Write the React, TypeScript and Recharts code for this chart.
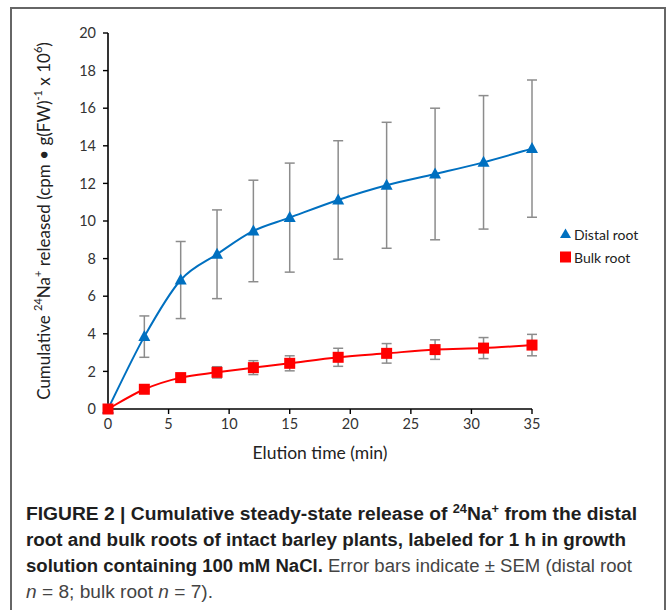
import React from "react";
import { LineChart, Line, XAxis, YAxis, ErrorBar } from "recharts";

const times = [0, 3, 6, 9, 12, 15, 19, 23, 27, 31, 35];
const distal = [0, 3.85, 6.86, 8.23, 9.47, 10.18, 11.12, 11.9, 12.5, 13.12, 13.85];
const distalErr = [0, 1.1, 2.05, 2.36, 2.7, 2.9, 3.15, 3.35, 3.5, 3.55, 3.65];
const bulk = [0, 1.05, 1.67, 1.95, 2.2, 2.43, 2.75, 2.96, 3.16, 3.24, 3.4];
const bulkErr = [0, 0.1, 0.15, 0.3, 0.37, 0.4, 0.48, 0.52, 0.52, 0.56, 0.57];
const xTicks = [0, 5, 10, 15, 20, 25, 30, 35];
const yTicks = [0, 2, 4, 6, 8, 10, 12, 14, 16, 18, 20];
const seriesNames = ["Distal root", "Bulk root"];

const BLUE = "#0070C0";
const RED = "#FF0000";
const ERR = "#8c8c8c";
const FONT = "Lato, 'Open Sans', sans-serif";

const data = times.map((t, i) => ({
  t,
  distal: distal[i],
  dErr: distalErr[i],
  bulk: bulk[i],
  bErr: bulkErr[i],
}));

// Smoothed line (Catmull-Rom style Bezier through points), like a spreadsheet "smoothed line"
const smoothCurve = (context: any) => {
  let pts: number[][] = [];
  return {
    areaStart() {},
    areaEnd() {},
    lineStart() {
      pts = [];
    },
    point(x: number, y: number) {
      pts.push([+x, +y]);
    },
    lineEnd() {
      const n = pts.length;
      if (!n) return;
      context.moveTo(pts[0][0], pts[0][1]);
      if (n === 1) return;
      for (let i = 0; i < n - 1; i++) {
        const p0 = pts[i - 1] || pts[i];
        const p1 = pts[i];
        const p2 = pts[i + 1];
        const p3 = pts[i + 2] || p2;
        const c1x = p1[0] + (p2[0] - p0[0]) / 6;
        const c1y = p1[1] + (p2[1] - p0[1]) / 6;
        const c2x = p2[0] - (p3[0] - p1[0]) / 6;
        const c2y = p2[1] - (p3[1] - p1[1]) / 6;
        context.bezierCurveTo(c1x, c1y, c2x, c2y, p2[0], p2[1]);
      }
    },
  };
};

const TriangleDot = (p: any) => {
  const { cx, cy, index } = p;
  if (cx == null || cy == null) return <g key={`tri-${index}`} />;
  return (
    <polygon
      key={`tri-${index}`}
      points={`${cx},${cy - 6.5} ${cx - 6},${cy + 4.5} ${cx + 6},${cy + 4.5}`}
      fill={BLUE}
    />
  );
};

const SquareDot = (p: any) => {
  const { cx, cy, index } = p;
  if (cx == null || cy == null) return <g key={`sq-${index}`} />;
  return <rect key={`sq-${index}`} x={cx - 5.5} y={cy - 5.5} width={11} height={11} fill={RED} />;
};

const YLabel = (props: any) => {
  const vb = props.viewBox || {};
  const x = vb.x + 23;
  const y = vb.y + vb.height / 2;
  return (
    <text
      x={x}
      y={y}
      transform={`rotate(-90, ${x}, ${y})`}
      textAnchor="middle"
      dominantBaseline="central"
      fontFamily={FONT}
      fontSize={17}
      fill="#222"
    >
      <tspan>Cumulative </tspan>
      <tspan fontSize={11} dy={-6}>24</tspan>
      <tspan dy={6}>Na</tspan>
      <tspan fontSize={11} dy={-6}>+</tspan>
      <tspan dy={6}> released (cpm • g(FW)</tspan>
      <tspan fontSize={11} dy={-6}>-1</tspan>
      <tspan dy={6}> x 10</tspan>
      <tspan fontSize={11} dy={-6}>6</tspan>
      <tspan dy={6}>)</tspan>
    </text>
  );
};

const XLabel = (props: any) => {
  const vb = props.viewBox || {};
  return (
    <text
      x={vb.x + vb.width / 2}
      y={vb.y + 43}
      textAnchor="middle"
      dominantBaseline="central"
      fontFamily={FONT}
      fontSize={17.5}
      fill="#222"
    >
      Elution time (min)
    </text>
  );
};

const LegendBox = () => (
  <svg style={{ position: "absolute", left: 560, top: 226 }} width={110} height={50}>
    {seriesNames.map((name, i) => {
      const cy = 8 + i * 23;
      return (
        <g key={name}>
          {i === 0 ? (
            <polygon points={`5.5,${cy - 5.5} 0,${cy + 4} 11,${cy + 4}`} fill={BLUE} />
          ) : (
            <rect x={0} y={cy - 5.5} width={11} height={11} fill={RED} />
          )}
          <text x={14} y={cy} dominantBaseline="central" fontFamily={FONT} fontSize={14} fill="#222">
            {name}
          </text>
        </g>
      );
    })}
  </svg>
);

const capBold = { fontWeight: 700, fill: "#1e1e1e" };

export default function App() {
  return (
    <div
      style={{
        position: "absolute",
        left: 0,
        top: 0,
        width: 670,
        height: 610,
        background: "#fff",
        overflow: "hidden",
      }}
    >
      <div
        style={{
          position: "absolute",
          left: 10,
          top: 7,
          width: 656,
          height: 640,
          border: "2px solid #666",
          boxSizing: "border-box",
        }}
      />
      <div style={{ position: "absolute", left: 0, top: 0 }}>
        <LineChart
          width={670}
          height={470}
          data={data}
          margin={{ top: 33, right: 138, bottom: 21, left: 20 }}
        >
          <XAxis
            dataKey="t"
            type="number"
            domain={[0, 35]}
            ticks={xTicks}
            tickSize={5}
            tickMargin={5}
            axisLine={{ stroke: "#000", strokeWidth: 1.6 }}
            tickLine={{ stroke: "#000", strokeWidth: 1.4 }}
            tick={{ fontFamily: FONT, fontSize: 14.5, fill: "#333" }}
            height={40}
            label={{ content: XLabel }}
          />
          <YAxis
            type="number"
            domain={[0, 20]}
            ticks={yTicks}
            tickSize={5}
            tickMargin={7}
            width={88}
            axisLine={{ stroke: "#000", strokeWidth: 1.6 }}
            tickLine={{ stroke: "#000", strokeWidth: 1.4 }}
            tick={{ fontFamily: FONT, fontSize: 14.5, fill: "#333" }}
            label={{ content: YLabel }}
          />
          <Line
            type={smoothCurve as any}
            dataKey="distal"
            name={seriesNames[0]}
            stroke={BLUE}
            strokeWidth={2}
            dot={TriangleDot}
            activeDot={false}
            isAnimationActive={false}
          >
            <ErrorBar dataKey="dErr" width={5} stroke={ERR} strokeWidth={1.5} direction="y" />
          </Line>
          <Line
            type={smoothCurve as any}
            dataKey="bulk"
            name={seriesNames[1]}
            stroke={RED}
            strokeWidth={2}
            dot={SquareDot}
            activeDot={false}
            isAnimationActive={false}
          >
            <ErrorBar dataKey="bErr" width={5} stroke={ERR} strokeWidth={1.5} direction="y" />
          </Line>
        </LineChart>
      </div>
      <LegendBox />
      <svg
        style={{ position: "absolute", left: 0, top: 490 }}
        width={670}
        height={120}
        fontFamily="'Liberation Sans', Arial, sans-serif"
        fontSize={18}
      >
        <text x={26} y={30} textLength={611} lengthAdjust="spacingAndGlyphs" {...capBold}>
          <tspan>FIGURE 2 | Cumulative steady-state release of </tspan>
          <tspan fontSize={12} dy={-7}>24</tspan>
          <tspan dy={7}>Na</tspan>
          <tspan fontSize={12} dy={-7}>+</tspan>
          <tspan dy={7}> from the distal</tspan>
        </text>
        <text x={26} y={56} textLength={600} lengthAdjust="spacingAndGlyphs" {...capBold}>
          root and bulk roots of intact barley plants, labeled for 1 h in growth
        </text>
        <text x={26} y={82} textLength={606} lengthAdjust="spacingAndGlyphs">
          <tspan fontWeight={700} fill="#1e1e1e">solution containing 100 mM NaCl.</tspan>
          <tspan fill="#444"> Error bars indicate ± SEM (distal root</tspan>
        </text>
        <text x={26} y={108} textLength={187} lengthAdjust="spacingAndGlyphs" fill="#444">
          <tspan fontStyle="italic">n</tspan>
          <tspan> = 8; bulk root </tspan>
          <tspan fontStyle="italic">n</tspan>
          <tspan> = 7).</tspan>
        </text>
      </svg>
    </div>
  );
}
